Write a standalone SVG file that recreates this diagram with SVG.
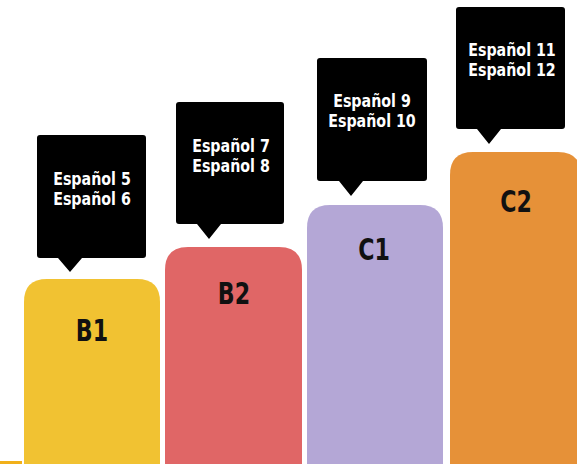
<svg xmlns="http://www.w3.org/2000/svg" width="577" height="464" viewBox="0 0 577 464">
<style>
.bar{stroke:none}
.call{fill:#000}
.ct{font-family:"DejaVu Sans Condensed","DejaVu Sans",sans-serif;font-weight:bold;font-stretch:condensed;font-size:18px;fill:#fff;text-anchor:middle}
.lb{font-family:"DejaVu Sans Condensed","DejaVu Sans",sans-serif;font-weight:bold;font-stretch:condensed;font-size:30px;fill:#111;text-anchor:middle}
</style>
<rect width="577" height="464" fill="#fff"/>
<rect x="0" y="461" width="22" height="3" fill="#F1B01A"/>
<g id="B1">
<path class="bar" fill="#F1C232" d="M24 464 V302 Q24 279 47 279 H137 Q160 279 160 302 V464 Z"/>
<text class="lb" transform="translate(92,341) scale(0.82,1)">B1</text>
<path class="call" d="M40 135 H143 Q146 135 146 138 V255 Q146 258 143 258 H82 L70 272 L58 258 H40 Q37 258 37 255 V138 Q37 135 40 135 Z"/>
<text class="ct" transform="translate(92,185) scale(0.88,1)">Español 5</text>
<text class="ct" transform="translate(92,205) scale(0.88,1)">Español 6</text>
</g>
<g id="B2">
<path class="bar" fill="#E06666" d="M165 464 V270 Q165 247 188 247 H279 Q302 247 302 270 V464 Z"/>
<text class="lb" transform="translate(234,304) scale(0.82,1)">B2</text>
<path class="call" d="M179 102 H281 Q284 102 284 105 V221 Q284 224 281 224 H221 L209 239 L197 224 H179 Q176 224 176 221 V105 Q176 102 179 102 Z"/>
<text class="ct" transform="translate(231,152) scale(0.88,1)">Español 7</text>
<text class="ct" transform="translate(231,172) scale(0.88,1)">Español 8</text>
</g>
<g id="C1">
<path class="bar" fill="#B4A7D6" d="M307 464 V228 Q307 205 330 205 H420 Q443 205 443 228 V464 Z"/>
<text class="lb" transform="translate(374,260) scale(0.82,1)">C1</text>
<path class="call" d="M320 58 H424 Q427 58 427 61 V178 Q427 181 424 181 H363 L351 196 L339 181 H320 Q317 181 317 178 V61 Q317 58 320 58 Z"/>
<text class="ct" transform="translate(372,107) scale(0.88,1)">Español 9</text>
<text class="ct" transform="translate(372,127) scale(0.88,1)">Español 10</text>
</g>
<g id="C2">
<path class="bar" fill="#E69138" d="M450 464 V175 Q450 152 473 152 H558 Q581 152 581 175 V464 Z"/>
<text class="lb" transform="translate(516,212) scale(0.82,1)">C2</text>
<path class="call" d="M459 7 H562 Q565 7 565 10 V126 Q565 129 562 129 H501 L489 144 L477 129 H459 Q456 129 456 126 V10 Q456 7 459 7 Z"/>
<text class="ct" transform="translate(512,56) scale(0.88,1)">Español 11</text>
<text class="ct" transform="translate(512,76) scale(0.88,1)">Español 12</text>
</g>
<g id="connectors"/>
</svg>
